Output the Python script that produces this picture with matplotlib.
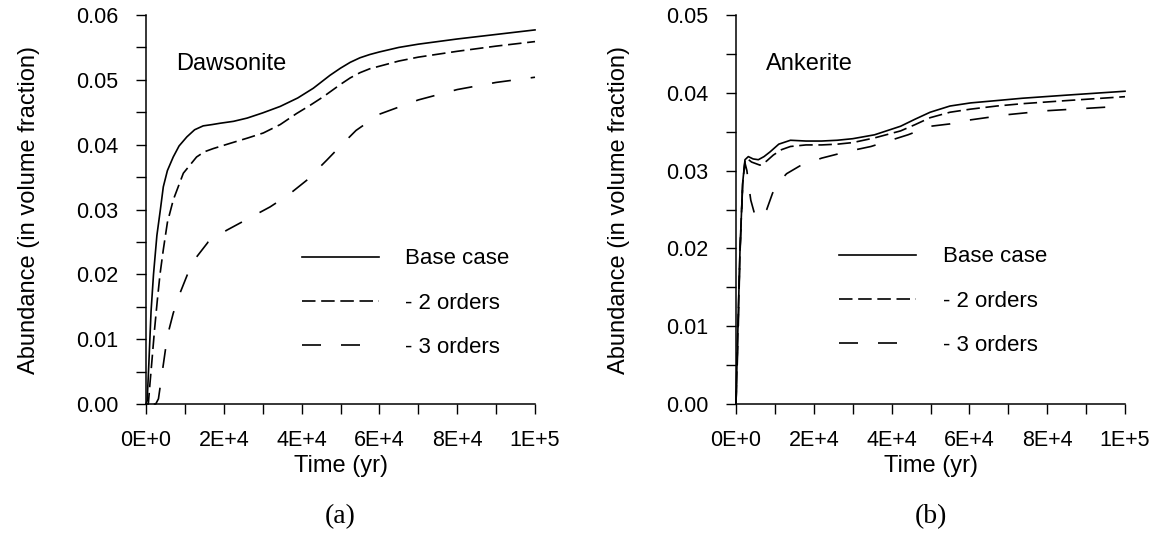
import numpy as np
import matplotlib
matplotlib.use("Agg")
import matplotlib.pyplot as plt
from matplotlib.ticker import MultipleLocator, FuncFormatter

plt.rcParams['font.family'] = ['Liberation Sans', 'DejaVu Sans']

# Dawsonite abundance vs time
daw_base_t = [0, 300, 730, 1300, 1930, 2800, 3700, 4450, 5500, 7000, 8500, 10500, 12500,
              14700, 17000, 19000, 22500, 26000, 30000, 34500, 39000, 43000, 47300, 50000,
              52500, 55000, 57500, 60000, 65000, 70000, 80000, 90000, 100000]
daw_base_v = [0, 0.0005, 0.0062, 0.0143, 0.020, 0.026, 0.030, 0.0335, 0.036, 0.0381, 0.0398,
              0.0412, 0.0423, 0.0429, 0.0431, 0.0433, 0.0436, 0.0441, 0.0449, 0.0459, 0.0472,
              0.0487, 0.0507, 0.0518, 0.0527, 0.0534, 0.0539, 0.0543, 0.0550, 0.0555, 0.0563,
              0.0570, 0.0577]

daw_o2_t = [0, 600, 1000, 1500, 2200, 2910, 3600, 4450, 5500, 7020, 9600, 13000, 15000, 17300,
            21600, 26000, 30150, 34500, 38700, 42000, 45600, 50000, 52500, 55000, 57500, 60000,
            65000, 70000, 80000, 90000, 100000]
daw_o2_v = [0, 0, 0.003, 0.0065, 0.0115, 0.016, 0.020, 0.0238, 0.028, 0.0315, 0.0356, 0.0381,
            0.0389, 0.0394, 0.0402, 0.0410, 0.0418, 0.0431, 0.0448, 0.0460, 0.0474, 0.0493,
            0.0503, 0.0511, 0.0517, 0.0521, 0.0529, 0.0535, 0.0544, 0.0552, 0.0559]

daw_o3_t = [2000, 2500, 3200, 4100, 5500, 7000, 8740, 11000, 13030, 16000, 20740, 26000, 31900,
            36500, 41300, 46450, 50000, 54000, 60000, 70000, 80000, 90000, 100000]
daw_o3_v = [0, 0, 0.0008, 0.0046, 0.0105, 0.014, 0.0171, 0.0205, 0.0227, 0.0250, 0.0268, 0.0285,
            0.0304, 0.0322, 0.0345, 0.0376, 0.0398, 0.0422, 0.0447, 0.0469, 0.0485, 0.0496,
            0.0504]

# Ankerite abundance vs time
ank_base_t = [0, 400, 1030, 1710, 2310, 3170, 4400, 5740, 7200, 8740, 11000, 14000, 18000, 22000,
              26000, 30000, 35600, 42300, 46000, 49900, 55000, 60300, 67000, 73600, 85000, 100000]
ank_base_v = [0, 0.008, 0.0198, 0.0284, 0.0314, 0.0318, 0.0315, 0.0314, 0.0318, 0.0324, 0.0334,
              0.0339, 0.0338, 0.0338, 0.0339, 0.0341, 0.0346, 0.0357, 0.0366, 0.0375, 0.0383,
              0.0387, 0.0390, 0.0393, 0.0397, 0.0402]

ank_o2_t = [0, 400, 1030, 1710, 2300, 2740, 4000, 6170, 7800, 9600, 11740, 14000, 18000, 22000,
            26100, 30000, 35600, 42300, 46000, 49900, 55000, 60300, 67000, 73600, 85000, 100000]
ank_o2_v = [0, 0.008, 0.0198, 0.0282, 0.0312, 0.0316, 0.0311, 0.0307, 0.0312, 0.0320, 0.0327,
            0.0331, 0.0333, 0.0333, 0.0334, 0.0336, 0.0342, 0.0351, 0.0359, 0.0368, 0.0375,
            0.0379, 0.0383, 0.0386, 0.0390, 0.0395]

ank_o3_t = [0, 500, 1000, 1700, 2300, 2800, 3300, 3800, 4900, 5800, 6800, 7900, 9400, 11000,
            13000, 16400, 22000, 25900, 30000, 34700, 38500, 44200, 50000, 55000, 60000, 70000,
            80000, 90000, 100000]
ank_o3_v = [0, 0.008, 0.019, 0.028, 0.031, 0.030, 0.028, 0.0262, 0.0242, 0.0238, 0.0243, 0.0250,
            0.0271, 0.0285, 0.0296, 0.0306, 0.0316, 0.0321, 0.0326, 0.0331, 0.0337, 0.0346,
            0.0357, 0.0360, 0.0365, 0.0372, 0.0377, 0.0380, 0.0383]

labels = ['Base case', '- 2 orders', '- 3 orders']
lw = 1.2
styles = ['-', (0, (8.1, 3.4)), (0, (11.4, 12.0))]


def sci_fmt(x, pos):
    if x == 0:
        return '0E+0'
    exp = int(np.floor(np.log10(abs(x))))
    mant = x / 10 ** exp
    return f'{mant:.0f}E+{exp}'


def style_axes(ax, ymax):
    ax.set_xlim(0, 100000)
    ax.set_ylim(0, ymax)
    for side in ['top', 'right']:
        ax.spines[side].set_visible(False)
    for side in ['left', 'bottom']:
        ax.spines[side].set_linewidth(1.1)
    ax.xaxis.set_major_locator(MultipleLocator(20000))
    ax.xaxis.set_minor_locator(MultipleLocator(10000))
    ax.yaxis.set_major_locator(MultipleLocator(0.01))
    ax.yaxis.set_minor_locator(MultipleLocator(0.005))
    ax.xaxis.set_major_formatter(FuncFormatter(sci_fmt))
    ax.yaxis.set_major_formatter(FuncFormatter(lambda v, p: f'{v:.2f}'))
    ax.tick_params(which='both', direction='out', length=7.5, width=1.0, labelsize=15.5)
    ax.tick_params(axis='x', which='major', pad=11.5)
    ax.tick_params(axis='y', which='major', pad=12.5)
    ax.set_xlabel('Time (yr)', fontsize=17, labelpad=2.5)
    ax.set_ylabel('Abundance (in volume fraction)', fontsize=17, labelpad=26)


fig = plt.figure(figsize=(11.59, 5.43), dpi=100)
ax1 = fig.add_axes([146 / 1159, 1 - 404 / 543, 389 / 1159, 389 / 543])
ax2 = fig.add_axes([736 / 1159, 1 - 404 / 543, 389 / 1159, 389 / 543])

panels = [
    (ax1, [(daw_base_t, daw_base_v), (daw_o2_t, daw_o2_v), (daw_o3_t, daw_o3_v)],
     0.06, 'Dawsonite', '(a)', (0.401, 0.400)),
    (ax2, [(ank_base_t, ank_base_v), (ank_o2_t, ank_o2_v), (ank_o3_t, ank_o3_v)],
     0.05, 'Ankerite', '(b)', (0.266, 0.405)),
]

for ax, series, ymax, name, tag, leg_pos in panels:
    for (t, v), ls, lab in zip(series, styles, labels):
        ax.plot(t, v, color='black', lw=lw, linestyle=ls, label=lab, clip_on=False)
    style_axes(ax, ymax)
    ax.text(0.078, 0.875, name, transform=ax.transAxes, fontsize=17, va='center', ha='left')
    ax.legend(loc='upper left', bbox_to_anchor=leg_pos, frameon=False, fontsize=16,
              handlelength=3.45, handletextpad=1.2, labelspacing=1.04,
              borderpad=0, borderaxespad=0)
    ax.text(0.5, -0.29, tag, transform=ax.transAxes, fontsize=20,
            family='Liberation Serif', ha='center', va='center')

fig.savefig('out.png', dpi=100)
